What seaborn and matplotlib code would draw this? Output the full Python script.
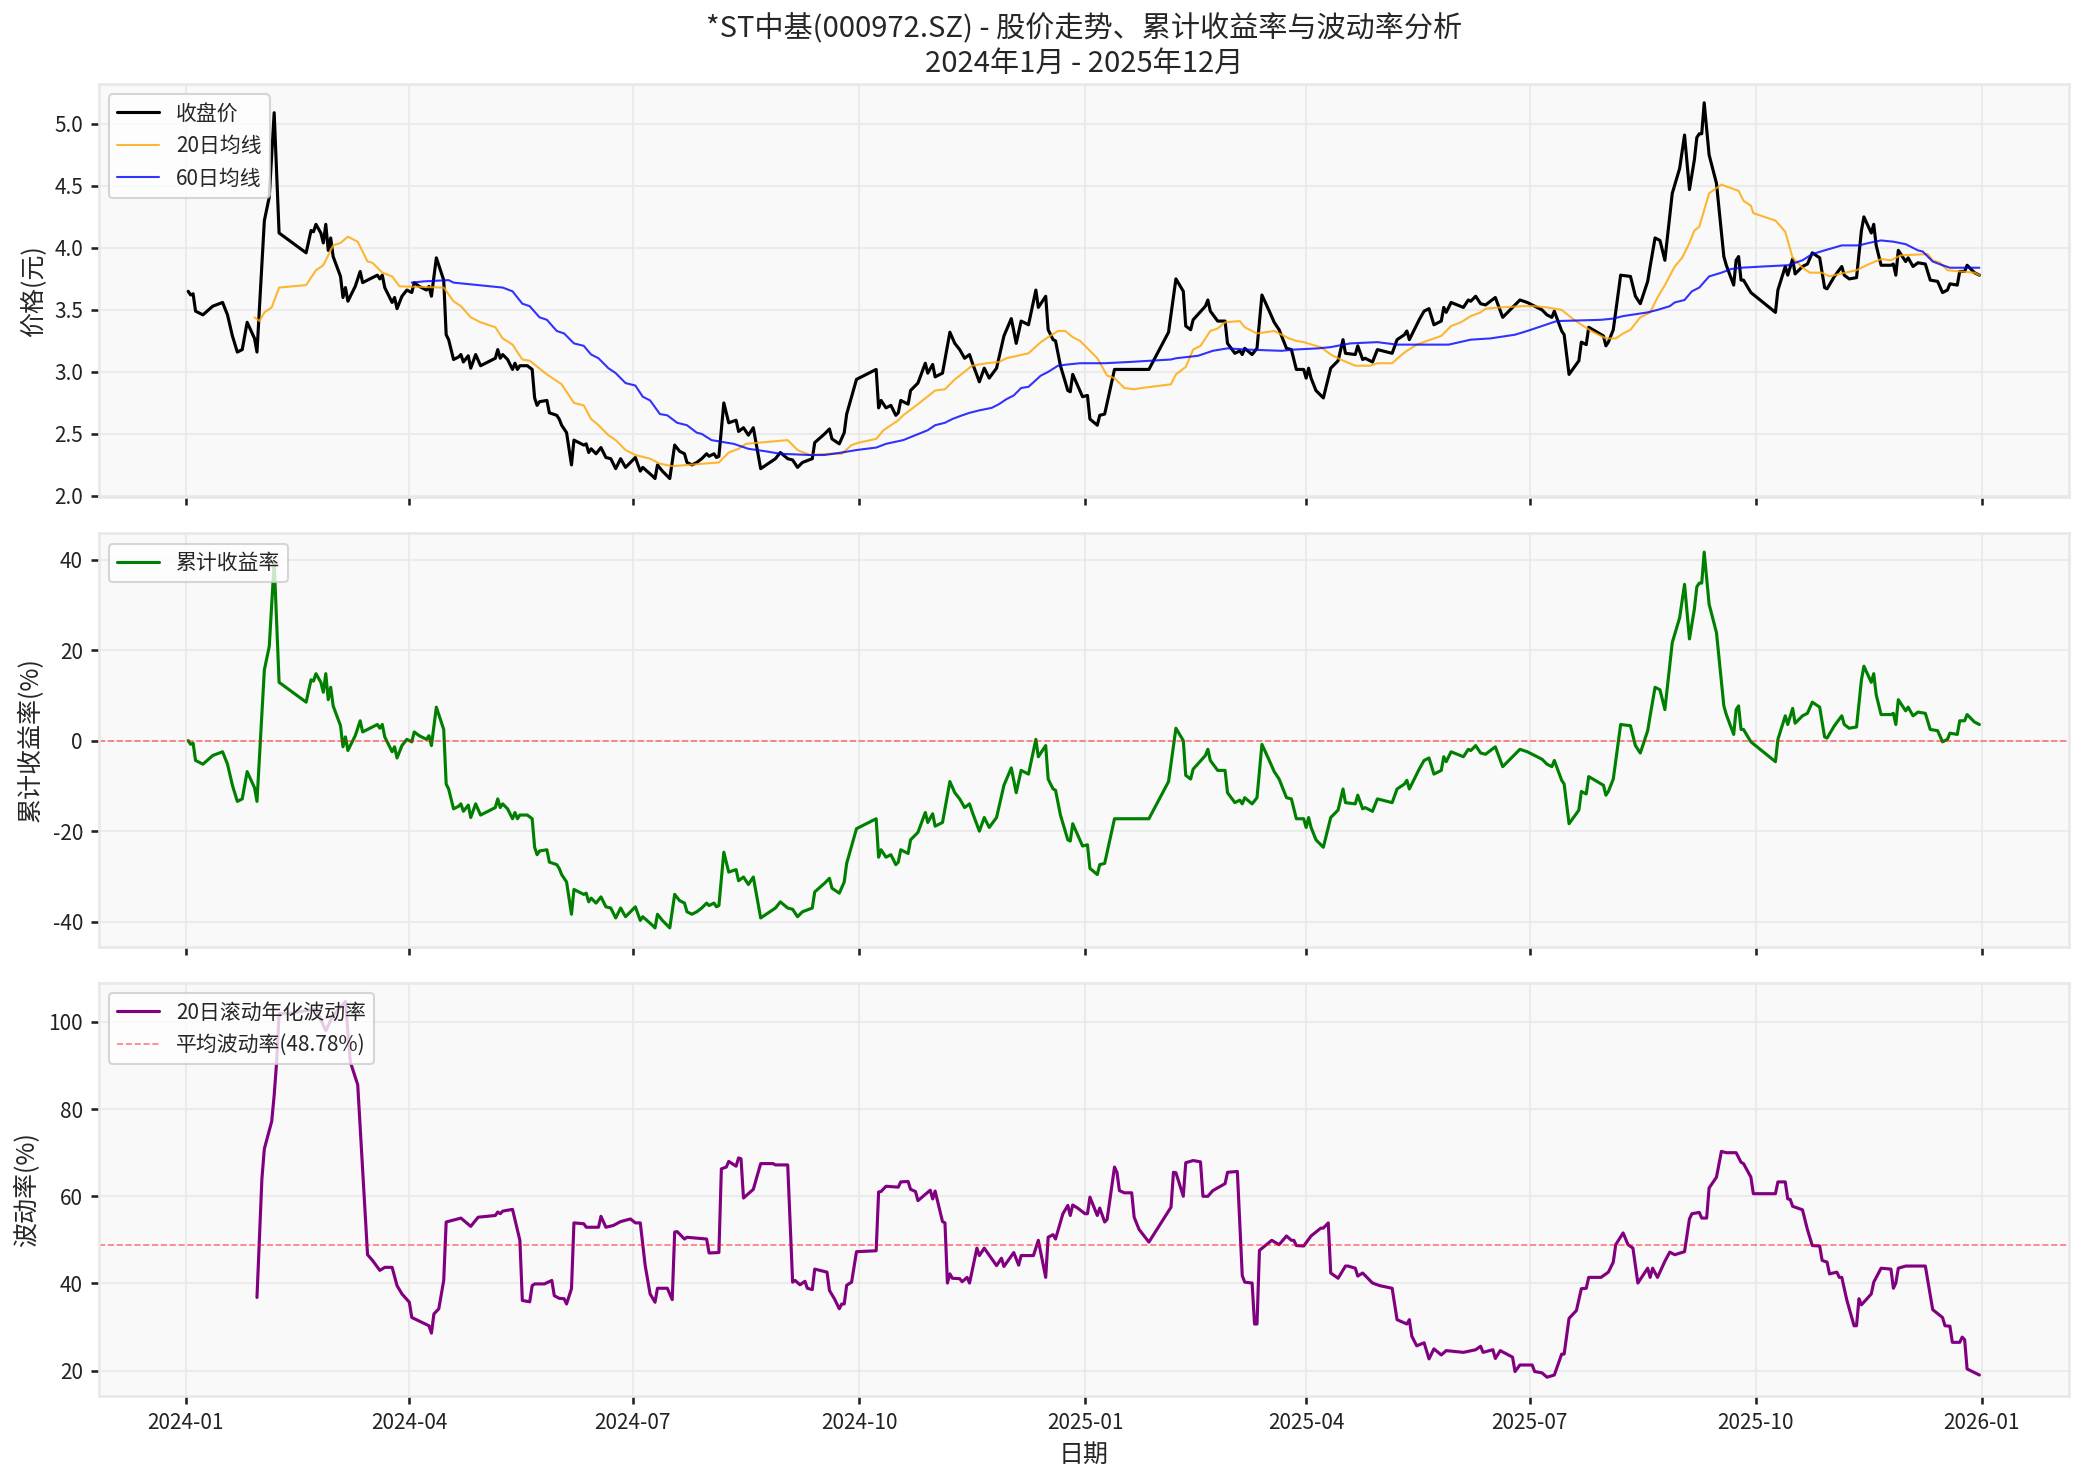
import numpy as np
import pandas as pd
import matplotlib
matplotlib.use("Agg")
import matplotlib.pyplot as plt
import matplotlib.dates as mdates
import seaborn as sns

# ---------------- data (days since 2024-01-01) ----------------
close_day = [1, 2, 3, 4, 7, 11, 15, 17, 19, 21, 23, 25, 28, 29, 32, 34, 36, 38, 49, 51, 52, 53, 55, 56, 57, 58, 59, 60,
             63, 64, 65, 66, 69, 71, 72, 76, 78, 79, 80, 81, 84, 85, 86, 88, 90, 92, 93, 95, 98, 99, 100, 102, 105, 106,
             107, 109, 111, 112, 113, 115, 116, 118, 120, 122, 126, 127, 128, 129, 131, 133, 134, 135, 136, 139, 141,
             142, 143, 144, 147, 148, 151, 152, 153, 155, 157, 158, 162, 163, 164, 165, 167, 169, 171, 173, 175, 177,
             179, 183, 185, 186, 190, 191, 192, 194, 197, 199, 201, 203, 204, 206, 208, 210, 212, 213, 215, 216, 217,
             219, 221, 224, 225, 227, 229, 231, 234, 240, 242, 245, 247, 249, 251, 255, 256, 260, 262, 263, 266, 268,
             269, 273, 281, 282, 283, 285, 287, 289, 290, 291, 294, 295, 298, 301, 302, 304, 305, 308, 311, 313, 315,
             317, 319, 320, 323, 325, 327, 330, 333, 336, 338, 340, 343, 346, 347, 350, 351, 353, 354, 356, 359, 360,
             361, 365, 367, 368, 371, 372, 374, 378, 392, 400, 403, 406, 407, 409, 410, 415, 416, 417, 420, 423, 424,
             427, 429, 430, 431, 434, 436, 438, 441, 443, 445, 446, 448, 450, 452, 455, 456, 457, 458, 460, 463, 464,
             466, 469, 471, 472, 476, 477, 479, 480, 483, 485, 491, 493, 496, 497, 498, 502, 504, 506, 508, 511, 512,
             513, 515, 520, 522, 523, 525, 527, 529, 533, 536, 540, 543, 546, 552, 554, 556, 557, 560, 561, 563, 567,
             568, 570, 571, 577, 578, 579, 581, 584, 588, 590, 592, 595, 596, 598, 600, 602, 605, 608, 610, 612, 614,
             615, 616, 617, 618, 620, 623, 626, 627, 630, 631, 632, 633, 634, 637, 647, 648, 651, 652, 654, 655, 658,
             660, 662, 665, 667, 668, 671, 674, 675, 677, 680, 682, 683, 686, 687, 688, 690, 694, 695, 696, 697, 699,
             700, 701, 703, 705, 708, 710, 713, 715, 717, 718, 721, 722, 724, 725, 728, 730]
close_val = [3.65, 3.62, 3.63, 3.49, 3.46, 3.53, 3.56, 3.46, 3.29, 3.16, 3.18, 3.40, 3.27, 3.16, 4.22, 4.41, 5.09, 4.12,
             3.96, 4.14, 4.13, 4.19, 4.12, 4.04, 4.19, 3.98, 4.08, 3.93, 3.77, 3.60, 3.68, 3.57, 3.69, 3.81, 3.72, 3.76,
             3.78, 3.75, 3.78, 3.68, 3.56, 3.60, 3.51, 3.61, 3.66, 3.64, 3.72, 3.69, 3.66, 3.69, 3.61, 3.92, 3.74, 3.30,
             3.26, 3.10, 3.12, 3.14, 3.08, 3.13, 3.03, 3.14, 3.05, 3.07, 3.11, 3.18, 3.11, 3.14, 3.10, 3.02, 3.07, 3.02,
             3.05, 3.05, 3.02, 2.79, 2.73, 2.76, 2.77, 2.67, 2.65, 2.62, 2.57, 2.51, 2.25, 2.45, 2.41, 2.42, 2.35, 2.38,
             2.34, 2.39, 2.31, 2.30, 2.22, 2.30, 2.23, 2.31, 2.20, 2.23, 2.16, 2.14, 2.25, 2.20, 2.14, 2.41, 2.36, 2.34,
             2.27, 2.25, 2.27, 2.30, 2.34, 2.32, 2.34, 2.31, 2.32, 2.75, 2.59, 2.61, 2.52, 2.55, 2.49, 2.55, 2.22, 2.30,
             2.35, 2.30, 2.29, 2.23, 2.27, 2.30, 2.43, 2.50, 2.54, 2.46, 2.42, 2.51, 2.66, 2.94, 3.02, 2.71, 2.77, 2.71,
             2.73, 2.65, 2.67, 2.77, 2.74, 2.85, 2.91, 3.07, 2.99, 3.06, 2.96, 2.99, 3.32, 3.23, 3.18, 3.11, 3.14, 3.08,
             2.92, 3.03, 2.95, 3.03, 3.29, 3.43, 3.23, 3.41, 3.38, 3.66, 3.52, 3.61, 3.34, 3.26, 3.25, 3.05, 2.85, 2.84,
             2.98, 2.80, 2.81, 2.62, 2.57, 2.65, 2.66, 3.02, 3.02, 3.32, 3.75, 3.65, 3.37, 3.34, 3.42, 3.53, 3.58, 3.49,
             3.41, 3.41, 3.23, 3.15, 3.17, 3.14, 3.19, 3.14, 3.19, 3.62, 3.49, 3.40, 3.34, 3.29, 3.19, 3.18, 3.02, 3.02,
             2.95, 3.03, 2.95, 2.85, 2.79, 2.87, 3.03, 3.09, 3.26, 3.15, 3.14, 3.21, 3.10, 3.11, 3.08, 3.18, 3.15, 3.26,
             3.30, 3.33, 3.26, 3.42, 3.49, 3.51, 3.38, 3.41, 3.52, 3.48, 3.56, 3.52, 3.58, 3.57, 3.61, 3.55, 3.54, 3.60,
             3.44, 3.52, 3.58, 3.56, 3.50, 3.46, 3.44, 3.49, 3.33, 3.30, 2.98, 3.09, 3.24, 3.22, 3.36, 3.29, 3.21, 3.24,
             3.34, 3.78, 3.77, 3.61, 3.55, 3.73, 3.85, 4.08, 4.06, 3.90, 4.44, 4.64, 4.91, 4.47, 4.71, 4.89, 4.92, 4.92,
             5.17, 4.75, 4.52, 3.93, 3.86, 3.70, 3.90, 3.93, 3.74, 3.74, 3.64, 3.48, 3.66, 3.85, 3.78, 3.91, 3.79, 3.85,
             3.87, 3.96, 3.92, 3.68, 3.67, 3.77, 3.85, 3.78, 3.75, 3.76, 4.14, 4.25, 4.12, 4.19, 4.02, 3.86, 3.86, 3.87,
             3.78, 3.98, 3.92, 3.89, 3.92, 3.85, 3.88, 3.87, 3.74, 3.73, 3.64, 3.66, 3.71, 3.70, 3.81, 3.81, 3.86, 3.80,
             3.78]

ma20_day = [28, 30, 32, 35, 38, 49, 53, 56, 60, 63, 66, 70, 74, 76, 80, 84, 87, 105, 109, 112, 116, 120, 126, 129, 133,
            137, 140, 147, 153, 158, 162, 165, 168, 172, 175, 179, 183, 189, 193, 198, 217, 221, 225, 228, 245, 249, 254,
            262, 267, 271, 274, 281, 284, 290, 292, 298, 305, 309, 313, 315, 320, 326, 331, 334, 343, 348, 351, 355, 358,
            361, 364, 367, 371, 375, 378, 382, 386, 389, 401, 403, 407, 410, 413, 417, 420, 423, 429, 431, 436, 443, 446,
            449, 452, 455, 460, 462, 466, 470, 476, 482, 485, 491, 495, 497, 501, 508, 511, 515, 519, 523, 527, 529, 535,
            544, 549, 554, 560, 565, 572, 578, 582, 585, 588, 592, 596, 599, 602, 606, 609, 612, 614, 616, 620, 625, 632,
            634, 637, 638, 647, 651, 654, 658, 661, 666, 669, 673, 680, 684, 690, 694, 698, 709, 711, 714, 717, 722, 728,
            730]
ma20_val = [3.44, 3.41, 3.48, 3.52, 3.68, 3.70, 3.82, 3.86, 4.02, 4.04, 4.09, 4.05, 3.89, 3.88, 3.80, 3.77, 3.69, 3.68,
            3.57, 3.53, 3.44, 3.40, 3.36, 3.27, 3.22, 3.10, 3.09, 2.98, 2.90, 2.75, 2.73, 2.62, 2.57, 2.49, 2.45, 2.37,
            2.33, 2.30, 2.26, 2.24, 2.27, 2.35, 2.38, 2.42, 2.45, 2.37, 2.33, 2.34, 2.34, 2.41, 2.43, 2.46, 2.53, 2.61,
            2.65, 2.74, 2.85, 2.86, 2.94, 2.97, 3.05, 3.07, 3.08, 3.11, 3.15, 3.24, 3.28, 3.33, 3.33, 3.28, 3.25, 3.19,
            3.11, 2.97, 2.95, 2.87, 2.86, 2.87, 2.90, 2.98, 3.04, 3.18, 3.21, 3.33, 3.35, 3.40, 3.41, 3.36, 3.31, 3.33,
            3.30, 3.27, 3.25, 3.24, 3.21, 3.20, 3.14, 3.10, 3.05, 3.05, 3.07, 3.07, 3.14, 3.17, 3.22, 3.27, 3.29, 3.37,
            3.40, 3.45, 3.48, 3.51, 3.52, 3.53, 3.53, 3.52, 3.50, 3.42, 3.33, 3.27, 3.27, 3.31, 3.34, 3.44, 3.48, 3.60,
            3.70, 3.85, 3.92, 4.04, 4.14, 4.17, 4.44, 4.51, 4.46, 4.38, 4.34, 4.28, 4.22, 4.13, 3.92, 3.84, 3.80, 3.80,
            3.77, 3.79, 3.82, 3.86, 3.91, 3.90, 3.94, 3.95, 3.90, 3.88, 3.82, 3.81, 3.80, 3.78]

ma60_day = [92, 97, 107, 109, 129, 133, 137, 140, 144, 147, 151, 154, 158, 162, 165, 168, 172, 175, 179, 183, 186, 189,
            193, 196, 200, 204, 208, 210, 214, 223, 229, 236, 242, 254, 260, 267, 273, 281, 285, 292, 297, 302, 305, 309,
            312, 316, 319, 323, 328, 331, 334, 337, 340, 343, 348, 351, 355, 359, 364, 374, 384, 401, 403, 412, 418, 424,
            432, 446, 451, 461, 466, 474, 485, 493, 514, 523, 531, 541, 546, 552, 558, 576, 581, 585, 595, 599, 604, 606,
            610, 613, 616, 620, 625, 629, 633, 642, 652, 658, 662, 667, 674, 681, 685, 690, 695, 700, 705, 707, 711, 715,
            718, 730]
ma60_val = [3.72, 3.73, 3.74, 3.72, 3.68, 3.65, 3.55, 3.53, 3.44, 3.42, 3.33, 3.31, 3.23, 3.21, 3.14, 3.11, 3.03, 2.99,
            2.91, 2.89, 2.80, 2.77, 2.66, 2.65, 2.59, 2.57, 2.51, 2.50, 2.45, 2.42, 2.38, 2.36, 2.34, 2.33, 2.33, 2.35,
            2.37, 2.39, 2.42, 2.45, 2.49, 2.53, 2.57, 2.59, 2.62, 2.65, 2.67, 2.69, 2.71, 2.74, 2.78, 2.81, 2.87, 2.88,
            2.97, 3.00, 3.05, 3.06, 3.07, 3.07, 3.08, 3.10, 3.11, 3.13, 3.17, 3.19, 3.18, 3.17, 3.18, 3.19, 3.20, 3.23,
            3.24, 3.22, 3.22, 3.26, 3.27, 3.30, 3.33, 3.37, 3.41, 3.42, 3.43, 3.45, 3.48, 3.50, 3.53, 3.56, 3.58, 3.65,
            3.68, 3.77, 3.80, 3.83, 3.84, 3.85, 3.86, 3.90, 3.95, 3.98, 4.02, 4.02, 4.04, 4.06, 4.05, 4.03, 3.98, 3.97,
            3.89, 3.86, 3.84, 3.84]

vol_day = [29, 31, 32, 35, 36, 37, 38, 42, 53, 57, 60, 65, 67, 70, 74, 76, 79, 81, 84, 86, 88, 91, 92, 99, 100, 101, 103,
           105, 106, 108, 112, 116, 119, 126, 127, 128, 129, 133, 136, 137, 140, 141, 142, 146, 149, 150, 152, 154, 155,
           157, 158, 162, 163, 168, 169, 171, 174, 177, 181, 183, 185, 187, 189, 191, 192, 196, 198, 199, 200, 203, 204,
           212, 213, 217, 218, 220, 221, 224, 225, 226, 227, 229, 231, 234, 239, 240, 245, 247, 248, 250, 252, 253, 255,
           256, 261, 262, 264, 266, 267, 268, 269, 271, 273, 281, 282, 283, 285, 290, 291, 294, 295, 297, 298, 303, 304,
           305, 308, 309, 310, 311, 312, 315, 316, 318, 319, 322, 323, 325, 330, 332, 333, 337, 339, 340, 345, 347, 350,
           351, 353, 354, 357, 359, 360, 361, 363, 366, 367, 368, 371, 372, 374, 375, 378, 379, 380, 382, 385, 386, 388,
           392, 401, 402, 403, 406, 407, 410, 413, 414, 416, 418, 422, 423, 424, 428, 430, 431, 434, 435, 436, 437, 442,
           445, 448, 450, 451, 452, 455, 458, 462, 463, 465, 466, 469, 472, 473, 476, 477, 479, 483, 486, 491, 493, 497,
           498, 499, 501, 504, 506, 508, 511, 513, 520, 525, 527, 528, 532, 533, 535, 540, 541, 543, 546, 548, 549, 552,
           554, 557, 560, 561, 563, 566, 568, 570, 571, 576, 579, 581, 582, 585, 587, 589, 591, 595, 596, 597, 599, 602,
           604, 606, 610, 612, 613, 616, 617, 619, 620, 623, 625, 627, 631, 633, 634, 637, 638, 647, 648, 651, 652, 653,
           654, 658, 660, 662, 665, 666, 668, 669, 672, 673, 674, 676, 679, 680, 681, 682, 686, 687, 690, 694, 695, 696,
           697, 700, 708, 711, 715, 716, 718, 719, 722, 723, 724, 725, 730]
vol_val = [36.8, 64.0, 70.9, 77.2, 83.2, 90.8, 101.9, 101.9, 103.0, 98.0, 101.5, 104.7, 90.8, 85.6, 46.6, 45.3, 43.0,
           43.7, 43.7, 39.5, 37.6, 35.7, 32.2, 30.3, 28.6, 33.0, 34.2, 40.7, 54.1, 54.4, 55.0, 53.1, 55.2, 55.6, 56.4,
           56.0, 56.6, 57.0, 49.9, 36.1, 35.8, 39.5, 39.9, 39.9, 40.7, 37.2, 36.6, 36.5, 35.3, 38.8, 53.9, 53.7, 52.9,
           52.9, 55.4, 52.9, 53.3, 54.2, 54.8, 53.9, 53.9, 44.1, 37.6, 35.7, 38.9, 38.9, 36.3, 51.8, 51.9, 50.2, 50.6,
           50.2, 47.0, 47.1, 66.3, 66.7, 68.0, 66.9, 68.8, 68.6, 59.6, 60.6, 61.6, 67.5, 67.5, 67.2, 67.2, 40.3, 40.7,
           39.7, 40.5, 38.9, 38.6, 43.3, 42.6, 38.4, 36.5, 34.2, 35.3, 35.3, 39.6, 40.3, 47.3, 47.5, 61.0, 61.1, 62.3,
           62.1, 63.3, 63.4, 61.6, 61.1, 59.0, 61.4, 59.4, 61.2, 54.2, 53.9, 40.1, 42.2, 41.2, 41.1, 40.4, 41.4, 40.1,
           48.1, 46.4, 48.1, 44.1, 45.8, 43.9, 47.1, 44.2, 46.4, 46.4, 49.9, 41.4, 50.6, 51.2, 50.2, 56.0, 57.9, 55.6,
           58.0, 57.3, 56.0, 56.0, 59.8, 55.6, 57.3, 54.1, 54.7, 66.7, 65.5, 61.3, 60.8, 60.8, 55.2, 52.4, 49.5, 57.5,
           65.5, 65.4, 60.0, 67.7, 68.2, 67.9, 60.0, 60.0, 61.3, 62.6, 62.9, 65.5, 65.7, 41.8, 40.3, 40.1, 30.7, 30.7,
           47.6, 49.9, 48.9, 50.9, 49.9, 49.9, 48.7, 48.6, 50.9, 52.7, 52.7, 53.9, 42.4, 41.2, 44.0, 44.0, 43.5, 41.7,
           42.4, 40.1, 39.5, 38.9, 31.7, 30.7, 31.7, 27.9, 25.7, 26.4, 22.7, 25.0, 23.6, 24.6, 24.2, 24.8, 25.6, 24.2,
           24.8, 22.8, 24.6, 23.1, 19.8, 21.3, 21.3, 21.3, 19.8, 19.5, 18.5, 19.0, 23.8, 23.8, 32.0, 33.8, 38.8, 38.9,
           41.4, 41.4, 42.6, 44.9, 48.9, 51.6, 48.9, 48.1, 40.1, 43.5, 41.4, 43.5, 41.4, 45.1, 47.2, 46.6, 47.3, 54.8,
           56.0, 56.3, 55.0, 55.0, 61.9, 64.4, 70.3, 70.0, 70.0, 67.8, 67.5, 64.4, 60.6, 60.6, 63.3, 63.3, 59.4, 59.3,
           57.7, 56.9, 52.4, 48.7, 48.6, 45.3, 44.9, 42.2, 42.6, 41.4, 41.4, 36.3, 30.3, 30.3, 36.5, 35.1, 37.6, 40.3,
           43.5, 43.3, 38.9, 40.1, 43.5, 44.0, 44.0, 34.0, 32.2, 30.3, 30.2, 26.5, 26.5, 27.7, 27.1, 20.4, 19.0]

avg_vol = 48.78

title_text = "*ST中基(000972.SZ) - 股价走势、累计收益率与波动率分析\n2024年1月 - 2025年12月"
labels_price = ["收盘价", "20日均线", "60日均线"]
label_cum = "累计收益率"
label_vol = "20日滚动年化波动率"
label_avg = f"平均波动率({avg_vol:.2f}%)"

# ---------------- build frames ----------------
base = pd.Timestamp("2024-01-01")
to_dates = lambda d: base + pd.to_timedelta(np.array(d), unit="D")
df_close = pd.DataFrame({"date": to_dates(close_day), "v": close_val})
df_close["cum"] = (df_close["v"] / df_close["v"].iloc[0] - 1) * 100
df_ma20 = pd.DataFrame({"date": to_dates(ma20_day), "v": ma20_val})
df_ma60 = pd.DataFrame({"date": to_dates(ma60_day), "v": ma60_val})
df_vol = pd.DataFrame({"date": to_dates(vol_day), "v": vol_val})

# ---------------- style ----------------
sns.set_theme(style="whitegrid", rc={
    "axes.facecolor": "#f9f9f9",
    "axes.edgecolor": "#e8e8e8",
    "grid.color": "#e8e8e8",
    "grid.linewidth": 1.0,
    "xtick.bottom": True,
    "ytick.left": True,
    "xtick.major.size": 4,
    "ytick.major.size": 4,
    "xtick.color": "#222222",
    "ytick.color": "#222222",
})
plt.rcParams["font.family"] = ["Noto Sans CJK SC", "DejaVu Sans"]
plt.rcParams["axes.unicode_minus"] = False

fig, axes = plt.subplots(3, 1, figsize=(2085 / 150, 1484 / 150), dpi=150, sharex=True)
fig.subplots_adjust(left=0.0473, right=0.9923, top=0.9434, bottom=0.0593, hspace=0.087)
ax1, ax2, ax3 = axes

# panel 1
sns.lineplot(data=df_close, x="date", y="v", ax=ax1, color="black", linewidth=1.5, label=labels_price[0],
             estimator=None)
sns.lineplot(data=df_ma20, x="date", y="v", ax=ax1, color="orange", linewidth=1.0, alpha=0.8, label=labels_price[1],
             estimator=None)
sns.lineplot(data=df_ma60, x="date", y="v", ax=ax1, color="blue", linewidth=1.0, alpha=0.8, label=labels_price[2],
             estimator=None)
ax1.set_title(title_text, fontsize=14)
ax1.set_ylabel("价格(元)", fontsize=12)
ax1.set_xlabel("")

# panel 2
sns.lineplot(data=df_close, x="date", y="cum", ax=ax2, color="green", linewidth=1.5, label=label_cum, estimator=None)
ax2.axhline(0, color="red", linestyle="--", linewidth=0.8, alpha=0.5)
ax2.set_ylabel("累计收益率(%)", fontsize=12)
ax2.set_xlabel("")

# panel 3
sns.lineplot(data=df_vol, x="date", y="v", ax=ax3, color="purple", linewidth=1.5, label=label_vol, estimator=None)
ax3.axhline(avg_vol, color="red", linestyle="--", linewidth=0.8, alpha=0.5, label=label_avg)
ax3.set_ylabel("波动率(%)", fontsize=12)
ax3.set_xlabel("日期", fontsize=12)

for ax in axes:
    ax.legend(loc="upper left", fontsize=10, frameon=True, framealpha=0.8, edgecolor="#cccccc", facecolor="white")
    ax.tick_params(labelsize=10)
    ax.grid(True, alpha=0.8)
    for s in ax.spines.values():
        s.set_color("#e8e8e8")

ax3.xaxis.set_major_locator(mdates.MonthLocator(bymonth=[1, 4, 7, 10]))
ax3.xaxis.set_major_formatter(mdates.DateFormatter("%Y-%m"))

fig.savefig("out.png", dpi=150)
